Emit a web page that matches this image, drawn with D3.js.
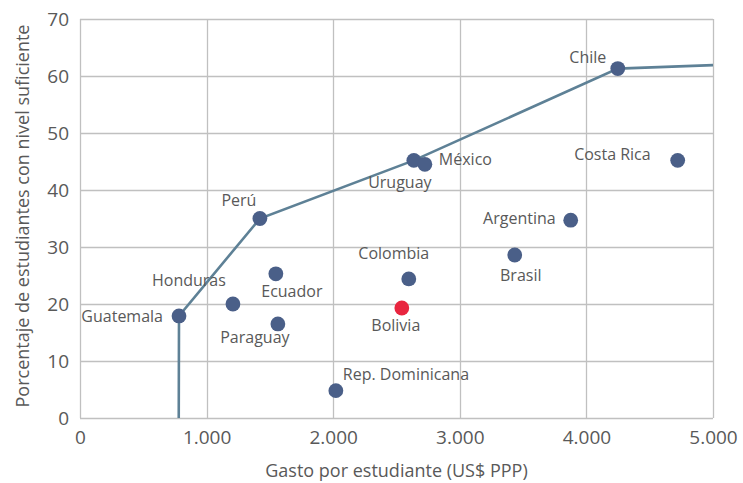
<!DOCTYPE html>
<html>
<head>
<meta charset="utf-8">
<script src="https://cdn.jsdelivr.net/npm/d3@7"></script>
<style>
  body { margin: 0; background: #fff; }
  svg text { font-family: "Open Sans", "Noto Sans", sans-serif; fill: #595959; }
</style>
</head>
<body>
<svg id="chart" width="743" height="483"></svg>
<script>
// Spending per student vs. share of students reaching a sufficient level
const countries = ["Guatemala", "Honduras", "Perú", "Ecuador", "Paraguay", "Rep. Dominicana",
  "Colombia", "Bolivia", "Uruguay", "México", "Brasil", "Argentina", "Chile", "Costa Rica"];
const gasto = [782, 1208, 1421, 1547, 1563, 2021, 2597, 2542, 2637, 2724, 3434, 3876, 4248, 4721];
const porcentaje = [17.9, 20.0, 35.0, 25.3, 16.5, 4.8, 24.4, 19.3, 45.2, 44.5, 28.6, 34.7, 61.3, 45.2];

// Efficiency frontier
const fronteraX = [780, 782, 1421, 2637, 4248, 5000];
const fronteraY = [0, 17.9, 35.0, 45.2, 61.3, 61.9];

const xTicks = [0, 1000, 2000, 3000, 4000, 5000];
const yTicks = [0, 10, 20, 30, 40, 50, 60, 70];
const highlighted = "Bolivia";

// Label placement: text anchor, x offset and baseline offset from the marker
const labelPos = {
  "Guatemala": ["end", -16, 6],
  "Honduras": ["middle", -44, -18],
  "Perú": ["middle", -21, -13],
  "Ecuador": ["middle", 16, 23],
  "Paraguay": ["middle", -23, 19],
  "Rep. Dominicana": ["start", 7, -11],
  "Colombia": ["middle", -15, -20],
  "Bolivia": ["middle", -6, 23],
  "Uruguay": ["middle", -14, 28],
  "México": ["start", 14, 1],
  "Brasil": ["middle", 6, 26],
  "Argentina": ["end", -15, 4],
  "Chile": ["middle", -30, -6],
  "Costa Rica": ["end", -27, 0]
};

const svg = d3.select("#chart");
const margin = { left: 80, top: 19, right: 30, bottom: 65 };
const W = 743, H = 483;

const x = d3.scaleLinear().domain([0, 5000]).range([margin.left, W - margin.right]);
const y = d3.scaleLinear().domain([0, 70]).range([H - margin.bottom, margin.top]);

const fmt = d => d3.format(",")(d).replace(/,/g, ".");

// Gridlines
const grid = svg.append("g");
grid.selectAll("line.v").data(xTicks).join("line")
  .attr("x1", d => Math.round(x(d)) + 0.5).attr("x2", d => Math.round(x(d)) + 0.5)
  .attr("y1", y(0)).attr("y2", y(70))
  .attr("stroke", "#c0c0c0").attr("stroke-width", 1.3);
grid.selectAll("line.h").data(yTicks).join("line")
  .attr("y1", d => Math.round(y(d)) + 0.5).attr("y2", d => Math.round(y(d)) + 0.5)
  .attr("x1", x(0)).attr("x2", x(5000))
  .attr("stroke", "#c0c0c0").attr("stroke-width", 1.3);

// Axes (ticks only as labels)
const xAxis = svg.append("g").attr("transform", `translate(0,${y(0)})`)
  .call(d3.axisBottom(x).tickValues(xTicks).tickFormat(fmt).tickSize(0).tickPadding(13));
const yAxis = svg.append("g").attr("transform", `translate(${x(0)},0)`)
  .call(d3.axisLeft(y).tickValues(yTicks).tickSize(0).tickPadding(11));
[xAxis, yAxis].forEach(a => {
  a.select(".domain").remove();
  a.selectAll("text").attr("font-size", 19).attr("fill", "#595959")
    .attr("font-family", "'Open Sans', sans-serif");
});

// Axis titles
svg.append("text").attr("x", (x(0) + x(5000)) / 2).attr("y", 477)
  .attr("text-anchor", "middle").attr("font-size", 18)
  .text("Gasto por estudiante (US$ PPP)");
svg.append("text")
  .attr("transform", `translate(29,216) rotate(-90)`)
  .attr("text-anchor", "middle").attr("font-size", 18)
  .text("Porcentaje de estudiantes con nivel suficiente");

// Frontier line
const frontier = fronteraX.map((v, i) => [v, fronteraY[i]]);
svg.append("path").datum(frontier)
  .attr("d", d3.line().x(d => x(d[0])).y(d => y(d[1])))
  .attr("fill", "none").attr("stroke", "#5e8196").attr("stroke-width", 2.6);

// Points
const pts = countries.map((c, i) => ({ c, gx: gasto[i], py: porcentaje[i] }));
svg.append("g").selectAll("circle").data(pts).join("circle")
  .attr("cx", d => x(d.gx)).attr("cy", d => y(d.py)).attr("r", 7.4)
  .attr("fill", d => d.c === highlighted ? "#e8253f" : "#4a5f88");

// Labels
svg.append("g").selectAll("text").data(pts).join("text")
  .attr("x", d => x(d.gx) + labelPos[d.c][1])
  .attr("y", d => y(d.py) + labelPos[d.c][2])
  .attr("text-anchor", d => labelPos[d.c][0])
  .attr("font-size", 16)
  .text(d => d.c);
</script>
</body>
</html>
